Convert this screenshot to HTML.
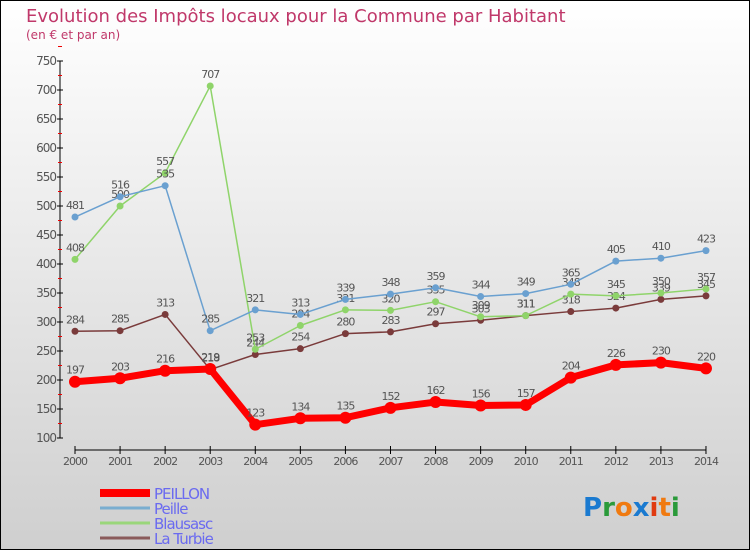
<!DOCTYPE html>
<html><head><meta charset="utf-8"><style>
body{margin:0}
#c{width:750px;height:550px;position:relative;overflow:hidden;box-sizing:border-box;border:1px solid #000;background:linear-gradient(#fff,#cfcfcf);font-family:"DejaVu Sans","Liberation Sans",sans-serif}
</style></head><body>
<div id="c">
<svg id="s" width="750" height="550" style="position:absolute;left:-1px;top:-1px"></svg>
</div>
<script>
const years=[2000,2001,2002,2003,2004,2005,2006,2007,2008,2009,2010,2011,2012,2013,2014];
const peillon=[197,203,216,219,123,134,135,152,162,156,157,204,226,230,220];
const peille=[481,516,535,285,321,313,339,348,359,344,349,365,405,410,423];
const blausasc=[408,500,557,707,253,294,321,320,335,309,311,348,345,350,357];
const turbie=[284,285,313,218,244,254,280,283,297,303,311,318,324,339,345];
const yTicks=[100,150,200,250,300,350,400,450,500,550,600,650,700,750];
const s=document.getElementById('s');const NS='http://www.w3.org/2000/svg';
function X(i){return 75+i*45.07}
function Y(v){return 61+(750-v)*0.58}
function el(t,a,p){const e=document.createElementNS(NS,t);for(const k in a)e.setAttribute(k,a[k]);(p||s).appendChild(e);return e}
function txt(x,y,str,a){const e=el('text',Object.assign({x:x,y:y},a));e.textContent=str;return e}
let t=txt(26,22,'Evolution des Impôts locaux pour la Commune par Habitant',{fill:'#c0386a','font-size':18});

t=txt(26,39,'(en € et par an)',{fill:'#c0386a','font-size':12});

let a=el('line',{x1:60,y1:Y(750),x2:60,y2:Y(100),stroke:'#000'});

yTicks.forEach(v=>{el('line',{x1:57,x2:63,y1:Y(v),y2:Y(v),stroke:'#000'});
 el('line',{x1:58,x2:62,y1:Y(v+25),y2:Y(v+25),stroke:'#e00'});
 const l=txt(56,Y(v)+4,v,{'text-anchor':'end',fill:'#555','font-size':12,'letter-spacing':'-1'});
 });
a=el('line',{x1:X(0),y1:450,x2:X(14),y2:450,stroke:'#000'});

years.forEach((y,i)=>{el('line',{x1:X(i),x2:X(i),y1:446,y2:454,stroke:'#000'});
 const l=txt(X(i),465,y,{'text-anchor':'middle',fill:'#555','font-size':11,'letter-spacing':'-1'});
 });
function series(d,col,w,r,name,lab){
 const p=el('polyline',{points:d.map((v,i)=>X(i)+','+Y(v)).join(' '),fill:'none',stroke:col,'stroke-width':w,'stroke-linejoin':'round'});
 
 d.forEach((v,i)=>{const c=el('circle',{cx:X(i),cy:Y(v),r:r,fill:col});
  
  const l=txt(X(i),Y(v)-8,v,{'text-anchor':'middle',fill:'#555','font-size':11,'letter-spacing':'-1'});
  });
}
series(turbie,'#7a3b3b',1.5,3.5,'la-turbie');
series(blausasc,'#8fd46a',1.5,3.5,'blausasc');
series(peille,'#6aa0d0',1.5,3.5,'peille');
series(peillon,'#f00',7,6,'peillon');
const leg=[['PEILLON','#f00',8],['Peille','#7aaed0',3],['Blausasc','#9ad67a',3],['La Turbie','#8a5a5a',3]];
leg.forEach((L,i)=>{const y=493+i*15;
 const g=el('g',{});
 el('line',{x1:100,x2:150,y1:y,y2:y,stroke:L[1],'stroke-width':L[2]},g);
 txt(154,y+6,L[0],{fill:'#6a6af0','font-size':15,'letter-spacing':'-1'},g);});
const lg=el('text',{x:583,y:516,'font-size':26,'font-weight':'bold'});

[['P','#1a7ad0'],['r','#2a9a3a'],['o','#f07a10'],['x','#1a7ad0'],['i','#e03a10'],['t','#f07a10'],['i','#2a9a3a']].forEach(q=>{const ts=el('tspan',{fill:q[1]},lg);ts.textContent=q[0];});
</script>
</body></html>
